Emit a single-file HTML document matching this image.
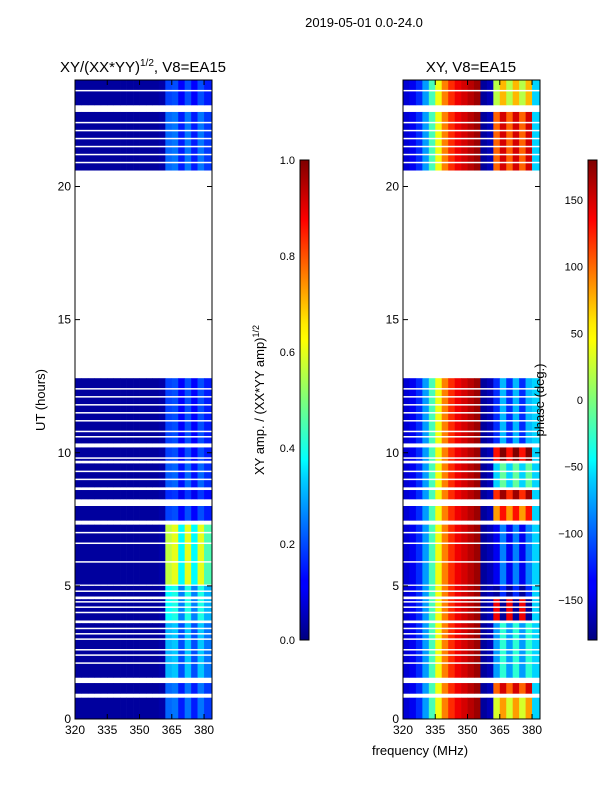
<!DOCTYPE html>
<html><head><meta charset="utf-8"><style>
body{margin:0;background:#fff}
svg{display:block;font-family:"Liberation Sans","DejaVu Sans",sans-serif}
</style></head><body>
<svg id="s" width="600" height="800" xmlns="http://www.w3.org/2000/svg">
<defs>
<linearGradient id="jet" x1="0" y1="1" x2="0" y2="0">
<stop offset="0" stop-color="#00007f"/><stop offset="0.11" stop-color="#0000ff"/><stop offset="0.125" stop-color="#0000ff"/>
<stop offset="0.34" stop-color="#00d4ff"/><stop offset="0.375" stop-color="#00ffff"/><stop offset="0.5" stop-color="#7dff7a"/>
<stop offset="0.625" stop-color="#ffff00"/><stop offset="0.66" stop-color="#ffea00"/><stop offset="0.875" stop-color="#ff0000"/><stop offset="1" stop-color="#7f0000"/>
</linearGradient>
</defs>
<text x="364" y="27" font-size="13" text-anchor="middle">2019-05-01 0.0-24.0</text>
<text x="143" y="72" font-size="15" text-anchor="middle">XY/(XX*YY)<tspan font-size="10" dy="-6">1/2</tspan><tspan dy="6">, V8=EA15</tspan></text>
<text x="471" y="72" font-size="15" text-anchor="middle">XY, V8=EA15</text>
<g id="p1"></g>
<g id="p2"></g>
<g id="axes"></g>
<rect x="300" y="160" width="9" height="480" fill="url(#jet)" stroke="#000" stroke-width="1"/>
<rect x="588" y="160" width="9" height="480" fill="url(#jet)" stroke="#000" stroke-width="1"/>
<text transform="translate(264,400) rotate(-90)" font-size="13" text-anchor="middle">XY amp. / (XX*YY amp)<tspan font-size="9" dy="-5">1/2</tspan></text>
<text transform="translate(544,400) rotate(-90)" font-size="13" text-anchor="middle">phase (deg.)</text>
<text transform="translate(45,400) rotate(-90)" font-size="13" text-anchor="middle">UT (hours)</text>
<text x="420" y="755" font-size="13" text-anchor="middle">frequency (MHz)</text>
</svg>
<script>
// data
const segStart=[0,0.95,1.55,3.7,4.6,5.05,7.45,8.25,8.7,9.7,10.35,20.6,23.05];
const segEnd=[0.8,1.35,3.6,4.5,5.0,7.3,8.0,8.6,9.6,10.2,12.8,22.8,24];
const segAmp=[0.3,0.3,0.4,0.5,0.5,0.75,0.25,0.22,0.28,0.25,0.25,0.3,0.25];
const segPhaseHigh=[50,120,-60,160,-150,-120,100,140,-40,150,-100,120,40];
const gapLines=[2.1,2.4,2.6,3.0,3.2,3.4,4.0,4.2,4.4,4.8,5.9,6.6,7.0,9.0,9.3,9.8,10.6,10.8,11.2,11.5,11.8,12.1,12.4,20.9,21.2,21.5,21.8,22.1,22.4,23.6];
const freqEdges=[320,323,326,329,332,335,338,341,344,347,350,353,356,359,362,365,368,371,374,377,380,383.7];
const ampProfile=[0.03,0.03,0.03,0.03,0.03,0.03,0.03,0.03,0.03,0.03,0.03,0.03,0.03,0.04,0.75,0.8,0.5,0.8,0.5,0.8,0.6];
const phaseProfile=[-150,-140,-120,-80,-20,40,90,120,140,150,160,170,-170,-160,null,null,null,null,null,null,-60];
const yTicks=[0,5,10,15,20];
const xTicks=[320,335,350,365,380];
const ampTicks=[0.0,0.2,0.4,0.6,0.8,1.0];
const phTicks=[-150,-100,-50,0,50,100,150];

const NS="http://www.w3.org/2000/svg";
const Y0=719,Y1=80;
const yS=h=>Y0-(Y0-Y1)*h/24;
function xS(px0,f){return px0+(f-320)*(137/63.7);}
function jet(v){v=Math.max(0,Math.min(1,v));
 const r=Math.max(0,Math.min(1,1.5-Math.abs(4*v-3))),g=Math.max(0,Math.min(1,1.5-Math.abs(4*v-2))),b=Math.max(0,Math.min(1,1.5-Math.abs(4*v-1)));
 return `rgb(${Math.round(r*255)},${Math.round(g*255)},${Math.round(b*255)})`;}
function mk(tag,at,parent){const e=document.createElementNS(NS,tag);for(const k in at)e.setAttribute(k,at[k]);parent.appendChild(e);return e;}
const p1=document.getElementById('p1'),p2=document.getElementById('p2'),ax=document.getElementById('axes');
for(let s=0;s<segStart.length;s++){
 const yt=yS(segEnd[s]),yb=yS(segStart[s]);
 for(let i=0;i<freqEdges.length-1;i++){
  const v=ampProfile[i]<0.1?ampProfile[i]:ampProfile[i]*segAmp[s];
  const x0=xS(75,freqEdges[i]),x1=xS(75,freqEdges[i+1]);
  const r=mk('rect',{x:x0,y:yt,width:x1-x0+0.3,height:yb-yt,fill:jet(v)},p1);
  
  
  let ph=phaseProfile[i]===null?segPhaseHigh[s]+(i%2?30:-20):phaseProfile[i];
  if(ph>180)ph-=360;
  const q0=xS(403,freqEdges[i]),q1=xS(403,freqEdges[i+1]);
  const r2=mk('rect',{x:q0,y:yt,width:q1-q0+0.3,height:yb-yt,fill:jet((ph+180)/360)},p2);
  
  
 }
}
for(const g of gapLines){for(const px of [75,403]){
 const l=mk('rect',{x:px,y:yS(g)-0.75,width:137,height:1.5,fill:'#fff'},ax);
 
 }}
for(const px of [75,403]){
 const f=mk('rect',{x:px,y:Y1,width:137,height:Y0-Y1,fill:'none',stroke:'#000','stroke-width':1},ax);
 
 
 for(const t of yTicks){const y=yS(t);
  mk('line',{x1:px,x2:px+5,y1:y,y2:y,stroke:'#000'},ax);mk('line',{x1:px+132,x2:px+137,y1:y,y2:y,stroke:'#000'},ax);
  const tx=mk('text',{x:px-4,y:y+4,'font-size':12,'text-anchor':'end'},ax);tx.textContent=t;
  
  }
 for(const t of xTicks){const x=xS(px,t);
  mk('line',{x1:x,x2:x,y1:Y0,y2:Y0-5,stroke:'#000'},ax);mk('line',{x1:x,x2:x,y1:Y1,y2:Y1+5,stroke:'#000'},ax);
  const tx=mk('text',{x:x,y:Y0+15,'font-size':12,'text-anchor':'middle'},ax);tx.textContent=t;
  
  }
}
for(const t of ampTicks){const y=640-480*t;
 mk('line',{x1:300,x2:304,y1:y,y2:y,stroke:'#000'},ax);
 const tx=mk('text',{x:295,y:y+4,'font-size':11,'text-anchor':'end'},ax);tx.textContent=t.toFixed(1);
 
 }
for(const t of phTicks){const y=640-480*(t+180)/360;
 mk('line',{x1:588,x2:592,y1:y,y2:y,stroke:'#000'},ax);
 const tx=mk('text',{x:583,y:y+4,'font-size':11,'text-anchor':'end'},ax);tx.textContent=t<0?'\u2212'+(-t):t;
 
 }
</script>
</body></html>
